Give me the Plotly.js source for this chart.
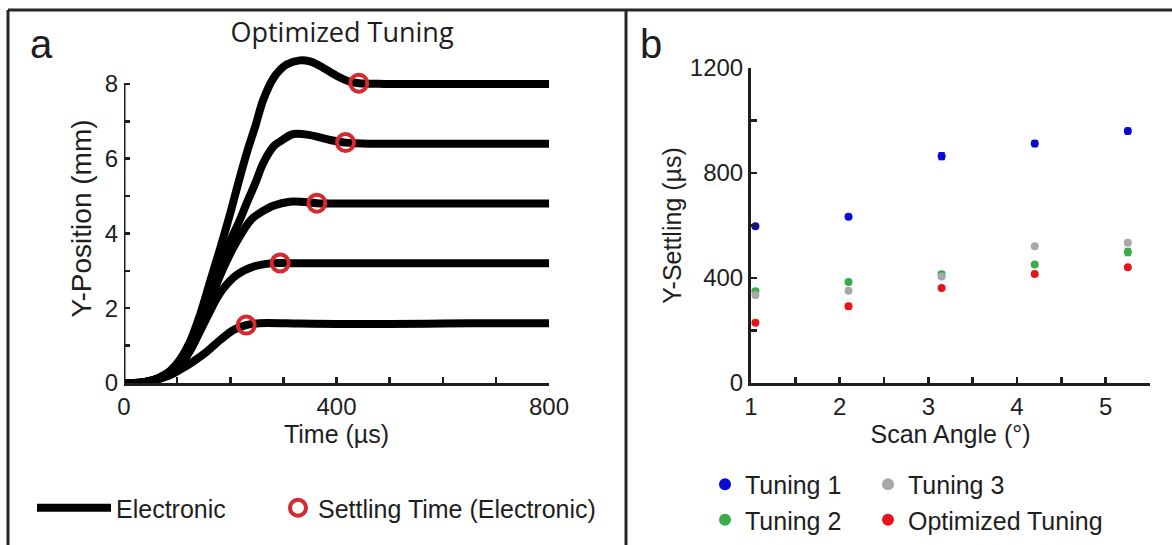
<!DOCTYPE html>
<html>
<head>
<meta charset="utf-8">
<script src="https://cdn.plot.ly/plotly-3.0.1.min.js"></script>
<style>
  html, body { margin: 0; padding: 0; background: #fff; }
  #chart { width: 1172px; height: 545px; }
</style>
</head>
<body>
<div id="chart"></div>
<script>
// ---- Panel a: Y-position step responses (µs, mm) ----
const timeA = [0, 20, 40, 55, 70, 80, 90, 105, 130, 156, 181, 206, 230, 255, 330, 400, 500, 600, 700, 800];
const posA  = [0, 0, 0.02, 0.06, 0.12, 0.17, 0.23, 0.35, 0.57, 0.84, 1.15, 1.42, 1.55, 1.6, 1.59, 1.58, 1.58, 1.59, 1.6, 1.6];

const timeB = [0, 20, 40, 55, 70, 87, 105, 124, 143, 162, 174, 187, 212, 243, 275, 294, 340, 450, 600, 800];
const posB  = [0, 0, 0.03, 0.08, 0.14, 0.26, 0.47, 0.85, 1.38, 1.92, 2.25, 2.53, 2.89, 3.11, 3.2, 3.21, 3.2, 3.2, 3.2, 3.2];

const timeC = [0, 20, 40, 55, 70, 87, 105, 124, 143, 162, 187, 212, 240, 256, 281, 312, 340, 363, 420, 600, 800];
const posC  = [0, 0, 0.03, 0.08, 0.15, 0.28, 0.5, 0.9, 1.5, 2.2, 3.07, 3.78, 4.38, 4.55, 4.74, 4.85, 4.84, 4.81, 4.8, 4.8, 4.8];

const timeD = [0, 20, 40, 55, 70, 87, 105, 124, 143, 162, 181, 200, 218, 231, 247, 262, 281, 294, 319, 350, 388, 417, 470, 600, 800];
const posD  = [0, 0, 0.03, 0.08, 0.16, 0.3, 0.55, 0.97, 1.6, 2.35, 3.1, 3.8, 4.36, 4.81, 5.34, 5.88, 6.32, 6.46, 6.66, 6.63, 6.5, 6.43, 6.4, 6.4, 6.4];

const timeE = [0, 20, 40, 55, 70, 87, 105, 124, 143, 162, 181, 200, 215, 231, 247, 262, 281, 294, 306, 331, 350, 369, 400, 425, 442, 490, 600, 800];
const posE  = [0, 0, 0.03, 0.08, 0.17, 0.33, 0.62, 1.1, 1.82, 2.71, 3.6, 4.54, 5.34, 6.15, 6.86, 7.57, 8.15, 8.38, 8.52, 8.63, 8.6, 8.48, 8.22, 8.06, 8.02, 8.0, 8.0, 8.0];

// settling instants marked on each response
const settleTime = [230, 294, 363, 417, 442];
const settlePos  = [1.55, 3.21, 4.81, 6.43, 8.02];

// ---- Panel b: Y-settling time vs scan angle ----
const scanAngle = [1.05, 2.1, 3.15, 4.2, 5.25];
const tuning1   = [597, 633, 864, 912, 960];
const tuning2   = [350, 385, 414, 451, 499];
const tuning3   = [335, 351, 406, 521, 534];
const optimized = [230, 292, 362, 415, 441];
const err1   = [4, 4, 12, 10, 10];
const err2   = [6, 5, 8, 5, 12];
const err3   = [6, 5, 6, 6, 8];
const errOpt = [5, 8, 4, 4, 5];

const W = 1172, H = 545;
const px = v => v / W;
const py = v => 1 - v / H;

const INK = '#1e1e1e';
const FONT = 'Liberation Sans, Arial, sans-serif';

const responses = [[timeA, posA], [timeB, posB], [timeC, posC], [timeD, posD], [timeE, posE]];
const traces = responses.map(([t, y], i) => ({
  type: 'scatter', mode: 'lines', x: t, y: y,
  xaxis: 'x', yaxis: 'y',
  line: { color: '#000', width: 8, shape: 'spline', smoothing: 1 },
  name: 'Electronic', legendgroup: 'elec', showlegend: i === 0,
  legend: 'legend', hoverinfo: 'skip'
}));

traces.push({
  type: 'scatter', mode: 'markers', x: settleTime, y: settlePos,
  xaxis: 'x', yaxis: 'y', cliponaxis: false,
  marker: { symbol: 'circle-open', size: 17, color: '#d7272f', line: { width: 4, color: '#d7272f' } },
  name: 'Settling Time (Electronic)', legend: 'legend2'
});

function settlingSeries(name, vals, errs, color, legend) {
  return {
    type: 'scatter', mode: 'markers', x: scanAngle, y: vals,
    xaxis: 'x2', yaxis: 'y2', cliponaxis: false,
    marker: { symbol: 'circle', size: 8, color: color },
    error_y: { type: 'data', array: errs, visible: true, color: color, thickness: 2, width: 3 },
    name: name, legend: legend
  };
}
traces.push(settlingSeries('Tuning 1', tuning1, err1, '#0a0ad2', 'legend3'));
traces.push(settlingSeries('Tuning 2', tuning2, err2, '#3aaa4a', 'legend3'));
traces.push(settlingSeries('Tuning 3', tuning3, err3, '#a8a8a8', 'legend4'));
traces.push(settlingSeries('Optimized Tuning', optimized, errOpt, '#e5141c', 'legend4'));

const tickCommon = {
  ticks: 'inside', ticklen: 6, tickwidth: 2.5, tickcolor: INK,
  showgrid: false, zeroline: false,
  tickfont: { family: FONT, size: 24, color: INK },
  linecolor: INK, linewidth: 3
};

const legendCommon = {
  font: { family: FONT, size: 25, color: INK },
  bgcolor: 'rgba(0,0,0,0)', borderwidth: 0,
  xref: 'paper', yref: 'paper', yanchor: 'middle', xanchor: 'left'
};

const layout = {
  width: W, height: H,
  margin: { l: 0, r: 0, t: 0, b: 0 },
  paper_bgcolor: '#fff', plot_bgcolor: 'rgba(0,0,0,0)',
  font: { family: FONT, color: INK },
  title: {
    text: 'Optimized Tuning',
    font: { family: 'Open Sans, sans-serif', size: 27, color: INK },
    xref: 'paper', x: px(342), xanchor: 'center',
    yref: 'container', y: py(33), yanchor: 'middle'
  },
  xaxis: Object.assign({}, tickCommon, {
    domain: [px(124), px(549)], range: [0, 800], anchor: 'y',
    showline: true, tickvals: [0, 400, 800],
    minor: { tickvals: [100, 200, 300, 500, 600, 700], ticks: 'inside', ticklen: 6, tickwidth: 2.5, tickcolor: INK, showgrid: false },
    title: { text: 'Time (µs)', font: { family: FONT, size: 25, color: INK }, standoff: 2 }
  }),
  yaxis: Object.assign({}, tickCommon, {
    domain: [py(383), py(54)], range: [0, 8.8], anchor: 'x',
    showline: false, tickvals: [0, 2, 4, 6, 8], ticklabelstandoff: 5,
    minor: { tickvals: [1, 3, 5, 7], ticks: 'inside', ticklen: 6, tickwidth: 2.5, tickcolor: INK, showgrid: false },
    title: { text: 'Y-Position (mm)', font: { family: FONT, size: 28, color: INK }, standoff: 4 }
  }),
  xaxis2: Object.assign({}, tickCommon, {
    domain: [px(751), px(1150)], range: [1, 5.5], anchor: 'y2',
    showline: true, tickvals: [1, 2, 3, 4, 5],
    minor: { tickvals: [1.5, 2.5, 3.5, 4.5, 5.5], ticks: 'inside', ticklen: 6, tickwidth: 2.5, tickcolor: INK, showgrid: false },
    title: { text: 'Scan Angle (°)', font: { family: FONT, size: 25, color: INK }, standoff: 2 }
  }),
  yaxis2: Object.assign({}, tickCommon, {
    domain: [py(383), py(68)], range: [0, 1200], anchor: 'x2',
    showline: true, tickvals: [0, 400, 800, 1200],
    minor: { tickvals: [200, 600, 1000], ticks: 'inside', ticklen: 6, tickwidth: 2.5, tickcolor: INK, showgrid: false },
    title: { text: 'Y-Settling (µs)', font: { family: FONT, size: 25, color: INK }, standoff: 2 }
  }),
  showlegend: true,
  legend: Object.assign({}, legendCommon, { x: px(32), y: py(508), itemwidth: 74, orientation: 'v' }),
  legend2: Object.assign({}, legendCommon, { x: px(278), y: py(508), orientation: 'v' }),
  legend3: Object.assign({}, legendCommon, { x: px(705), y: py(502), orientation: 'v', itemsizing: 'constant' }),
  legend4: Object.assign({}, legendCommon, { x: px(868), y: py(502), orientation: 'v', itemsizing: 'constant' }),
  shapes: [
    // left y-axis spine ends at the top labelled tick
    { type: 'line', xref: 'x', yref: 'y', x0: 0, x1: 0, y0: 0, y1: 8, line: { color: INK, width: 3 } },
    // panel frame
    { type: 'line', xref: 'paper', yref: 'paper', x0: px(8), x1: px(8), y0: -0.02, y1: py(10), line: { color: '#262626', width: 3 } },
    { type: 'line', xref: 'paper', yref: 'paper', x0: px(8), x1: 1.01, y0: py(10), y1: py(10), line: { color: '#262626', width: 3 } },
    { type: 'line', xref: 'paper', yref: 'paper', x0: px(626), x1: px(626), y0: -0.02, y1: py(10), line: { color: '#262626', width: 3 } }
  ],
  annotations: [
    { text: 'a', xref: 'paper', yref: 'paper', x: px(28), y: py(44), xanchor: 'left', yanchor: 'middle', showarrow: false, font: { family: FONT, size: 40, color: INK } },
    { text: 'b', xref: 'paper', yref: 'paper', x: px(638), y: py(44), xanchor: 'left', yanchor: 'middle', showarrow: false, font: { family: FONT, size: 40, color: INK } }
  ]
};

Plotly.newPlot('chart', traces, layout, { displayModeBar: false, staticPlot: true });
</script>
</body>
</html>
